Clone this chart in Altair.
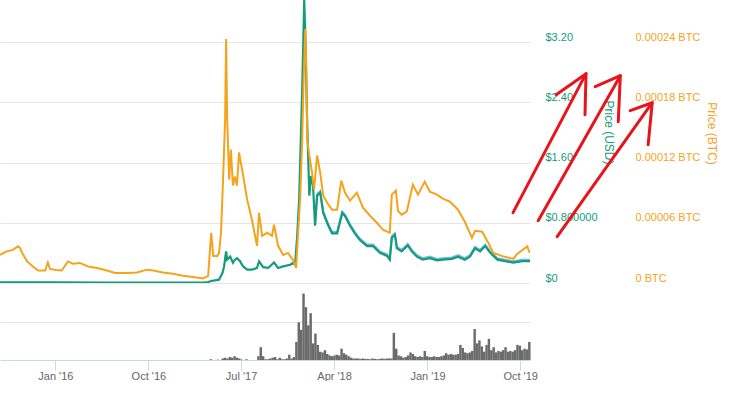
import altair as alt
import pandas as pd

# ---------------- data ----------------
btc_dates = ["2015-07-22","2015-08-11","2015-08-29","2015-09-13","2015-09-19","2015-09-25","2015-10-10","2015-10-27","2015-11-11","2015-12-02",
             "2015-12-10","2015-12-16","2016-01-03","2016-01-20","2016-02-07","2016-02-22","2016-03-13","2016-04-06","2016-05-03","2016-06-01",
             "2016-06-25","2016-07-30","2016-08-29","2016-09-27","2016-10-15","2016-11-13","2016-12-12","2017-01-11","2017-02-10","2017-03-11",
             "2017-03-26","2017-04-04","2017-04-10","2017-04-22","2017-04-27","2017-05-03","2017-05-09","2017-05-15","2017-05-18","2017-05-21",
             "2017-05-27","2017-06-01","2017-06-07","2017-06-13","2017-06-19","2017-06-25","2017-07-04","2017-07-19","2017-08-02","2017-08-17",
             "2017-08-23","2017-09-01","2017-09-16","2017-09-30","2017-10-06","2017-10-18","2017-11-02","2017-11-16","2017-12-01","2017-12-10",
             "2017-12-16","2017-12-22","2017-12-28","2018-01-01","2018-01-06","2018-01-09","2018-01-12","2018-01-18","2018-01-26","2018-02-01",
             "2018-02-10","2018-02-19","2018-02-28","2018-03-15","2018-03-26","2018-04-10","2018-04-22","2018-05-03","2018-05-18","2018-06-07",
             "2018-06-25","2018-07-16","2018-08-05","2018-08-23","2018-09-12","2018-09-18","2018-09-30","2018-10-06","2018-10-17","2018-11-01",
             "2018-11-19","2018-12-04","2018-12-24","2019-01-08","2019-01-29","2019-02-15","2019-03-08","2019-04-01","2019-04-21","2019-05-12",
             "2019-05-21","2019-06-11","2019-06-29","2019-07-14","2019-08-12","2019-09-11","2019-09-22","2019-10-22","2019-10-29"]
# price in BTC, in units of 1e-6 BTC
btc_micro = [28,31.5,33,36.5,35,30,21.5,16.5,12.5,12.5,
             20.5,14,13,12.5,21.5,19.3,20,16.5,15,12.5,
             10,10,10.5,13.3,12.5,10.5,9.3,7.3,6,4.6,
             7,50,27,27,30,50,103,163,243,163,
             103,133,97,106,97,130,113,83,63,37,
             70,47,50,47,58,37,28,30,23,15,
             50,83,143,200,253,217,143,127,110,93,
             127,110,87,78,73,73,102,90,82,90,
             75,67,60,53,50,88,92,72,68,71,
             98,88,101,91,88,84,81,73,61,45,
             52,51,40,30,26.5,24,29,36.5,30]

usd_dates = ["2015-07-22","2015-09-15","2016-01-01","2016-06-01","2016-12-01","2017-03-11","2017-03-26","2017-04-04","2017-04-27","2017-05-07",
             "2017-05-12","2017-05-18","2017-05-21","2017-05-30","2017-06-07","2017-06-13","2017-06-19","2017-06-28","2017-07-07","2017-07-19",
             "2017-08-02","2017-08-17","2017-08-23","2017-09-04","2017-09-19","2017-10-06","2017-10-18","2017-11-02","2017-11-23","2017-12-01",
             "2017-12-07","2017-12-13","2017-12-19","2017-12-28","2018-01-03","2018-01-06","2018-01-12","2018-01-15","2018-01-18","2018-01-23",
             "2018-01-29","2018-02-04","2018-02-10","2018-02-19","2018-02-28","2018-03-15","2018-03-26","2018-04-10","2018-04-25","2018-05-03",
             "2018-05-18","2018-06-01","2018-06-16","2018-07-07","2018-07-25","2018-08-14","2018-09-04","2018-09-12","2018-09-18","2018-09-27",
             "2018-10-03","2018-10-17","2018-11-04","2018-11-16","2018-12-01","2018-12-18","2019-01-08","2019-01-29","2019-02-15","2019-03-14",
             "2019-04-01","2019-04-21","2019-05-06","2019-05-21","2019-06-05","2019-06-20","2019-07-05","2019-07-26","2019-08-18","2019-09-11",
             "2019-10-07","2019-10-30"]
usd_values = [0.008,0.009,0.007,0.006,0.005,0.005,0.013,0.027,0.044,0.133,
              0.22,0.42,0.31,0.35,0.27,0.31,0.33,0.29,0.22,0.177,
              0.177,0.2,0.287,0.21,0.2,0.274,0.2,0.22,0.243,0.266,
              0.24,0.6,1.1,2.56,3.76,3.32,2.08,1.63,1.16,1.42,
              1.29,0.76,1.16,1.2,0.93,0.76,0.66,0.66,0.93,0.89,
              0.76,0.66,0.57,0.49,0.49,0.4,0.36,0.31,0.6,0.64,
              0.46,0.42,0.5,0.42,0.35,0.31,0.33,0.3,0.31,0.32,
              0.35,0.31,0.35,0.46,0.42,0.49,0.4,0.31,0.29,0.27,
              0.29,0.29]

volume_start = "2017-03-20"   # weekly volume bars from this date
volume = [0,0,1,0,0,0.5,0,2,3,2,
          4,3,5,3,2,0.5,0,1,0,0,
          0,0,5,17,5,1,1,2,3,4,
          1,3,1,1,2,7,2,4,24,50,
          40,88,70,46,62,22,35,20,11,10,
          13,8,6,5,6,7,6,15,9,7,
          5,3,2,2,2,1.5,2,1.5,1.5,1,
          2,1.5,1,1.5,2,1.5,2,2,2,36,
          15,6,5,3,4,6,10,8,5,4,
          5,4,12,5,4,4,5,4,4,5,
          6,9,7,8,7,7,8,20,16,10,
          9,10,12,41,22,26,18,11,20,28,
          13,17,10,12,11,13,17,11,12,11,
          13,20,19,13,15,14,24]

x_tick_dates = ["2016-01-01","2016-10-01","2017-07-01","2018-04-01","2019-01-01","2019-10-01"]
usd_ticks = [0, 0.8, 1.6, 2.4, 3.2]
btc_ticks = [0, 0.00006, 0.00012, 0.00018, 0.00024]

# hand-drawn red arrows (annotation), each stroke as a polyline in (date, USD)
arrow_stroke = [1,1, 2,2,2, 3,3, 4,4,4, 5,5, 6,6,6]
arrow_date = ["2019-09-10","2020-04-12",
              "2020-01-15","2020-04-12","2020-04-09",
              "2019-11-23","2020-07-22",
              "2020-05-09","2020-07-22","2020-07-16",
              "2020-01-18","2020-10-24",
              "2020-08-20","2020-10-24","2020-10-12"]
arrow_usd = [0.934,2.780,
             2.501,2.780,2.235,
             0.827,2.753,
             2.607,2.753,2.142,
             0.615,2.394,
             2.288,2.394,1.837]
arrow_order = [0,1, 0,1,2, 0,1, 0,1,2, 0,1, 0,1,2]

# ---------------- styling ----------------
GREEN = "#129c79"
ORANGE = "#f5a31c"
BLUE = "#7cb5ec"
RED = "#e8141c"
GREY_BAR = "#6b6b6b"
FONT = "Liberation Sans"

USD_MAX = 3.758
BTC_MAX = 0.00028185


def dt(s):
    y, m, d = (int(p) for p in s.split("-"))
    return alt.DateTime(year=y, month=m, date=d, utc=True)


x_scale = alt.Scale(type="utc", domain=[dt("2015-07-22"), dt("2019-10-30")], nice=False, padding=0)
usd_scale = alt.Scale(domain=[0, USD_MAX], nice=False)
btc_scale = alt.Scale(domain=[0, BTC_MAX], nice=False)

usd_df = pd.DataFrame({"date": usd_dates, "usd": usd_values})
btc_df = pd.DataFrame({"date": btc_dates, "btc": [v * 1e-6 for v in btc_micro]})
vol_df = pd.DataFrame({
    "date": pd.date_range(volume_start, periods=len(volume), freq="7D").strftime("%Y-%m-%d"),
    "vol": volume,
})
arrow_df = pd.DataFrame({"stroke": arrow_stroke, "date": arrow_date, "usd": arrow_usd, "ord": arrow_order})

x_hidden = alt.X("date:T", scale=x_scale, axis=None)

mcap = alt.Chart(usd_df).transform_filter(
    alt.FieldGTEPredicate(field="date", gte=dt("2018-02-01"))
).mark_line(color=BLUE, strokeWidth=2, yOffset=-1.5, clip=True).encode(
    x=x_hidden,
    y=alt.Y("usd:Q", scale=usd_scale, axis=None),
)

usd_line = alt.Chart(usd_df).mark_line(color=GREEN, strokeWidth=2.2, clip=True).encode(
    x=x_hidden,
    y=alt.Y("usd:Q", scale=usd_scale, axis=alt.Axis(
        orient="right", values=usd_ticks,
        labelExpr="datum.value == 0 ? '$0' : (datum.value == 0.8 ? '$0.800000' : '$' + format(datum.value, '.2f'))",
        grid=True, gridColor="#e6e6e6", gridWidth=1,
        domain=False, ticks=False, tickSize=0,
        labelPadding=15, labelBaseline="bottom", labelColor=GREEN,
        labelFont=FONT, labelFontSize=11,
        title="Price (USD)", titleColor=GREEN, titleFont=FONT, titleFontSize=12,
        titleFontWeight="normal", titleAngle=90, titleX=78.7, titleY=132,
        titleAlign="center", titleBaseline="middle", zindex=0,
    )),
)

btc_line = alt.Chart(btc_df).mark_line(color=ORANGE, strokeWidth=2, clip=True).encode(
    x=x_hidden,
    y=alt.Y("btc:Q", scale=btc_scale, axis=alt.Axis(
        orient="right", offset=90, values=btc_ticks,
        labelExpr="datum.value == 0 ? '0 BTC' : format(datum.value, '.5f') + ' BTC'",
        grid=False, domain=False, ticks=False, tickSize=0,
        labelPadding=15, labelBaseline="bottom", labelColor=ORANGE,
        labelFont=FONT, labelFontSize=11,
        title="Price (BTC)", titleColor=ORANGE, titleFont=FONT, titleFontSize=12,
        titleFontWeight="normal", titleAngle=90, titleX=91.5, titleY=133,
        titleAlign="center", titleBaseline="middle", zindex=0,
    )),
)

arrows = alt.Chart(arrow_df).mark_line(
    color=RED, strokeWidth=3, strokeCap="round", strokeJoin="round", clip=False
).encode(
    x=x_hidden,
    y=alt.Y("usd:Q", scale=usd_scale, axis=None),
    detail="stroke:N",
    order="ord:Q",
)

price_panel = alt.layer(mcap, usd_line, btc_line, arrows).resolve_scale(
    y="independent"
).properties(width=530, height=283)

volume_panel = alt.Chart(vol_df).mark_bar(color=GREY_BAR, size=2.45).encode(
    x=alt.X("date:T", scale=x_scale, axis=alt.Axis(
        values=[dt(s) for s in x_tick_dates],
        labelExpr="utcFormat(datum.value, \"%b '%y\")",
        domainColor="#ccd6eb", tickColor="#ccd6eb", tickSize=10,
        labelColor="#666666", labelFont=FONT, labelFontSize=11, labelPadding=0,
        grid=False, title=None,
    )),
    y=alt.Y("vol:Q", scale=alt.Scale(domain=[0, 102], nice=False), axis=alt.Axis(
        values=[50], grid=True, gridColor="#e6e6e6", labels=False,
        ticks=False, domain=False, title=None,
    )),
).properties(width=530, height=77)

chart = alt.vconcat(price_panel, volume_panel, spacing=0, bounds="flush").properties(
    padding={"left": 0, "top": 0, "right": 0, "bottom": 0}
).configure_view(strokeWidth=0)

chart.save("out.html", embed_options={"renderer": "svg", "actions": False})
